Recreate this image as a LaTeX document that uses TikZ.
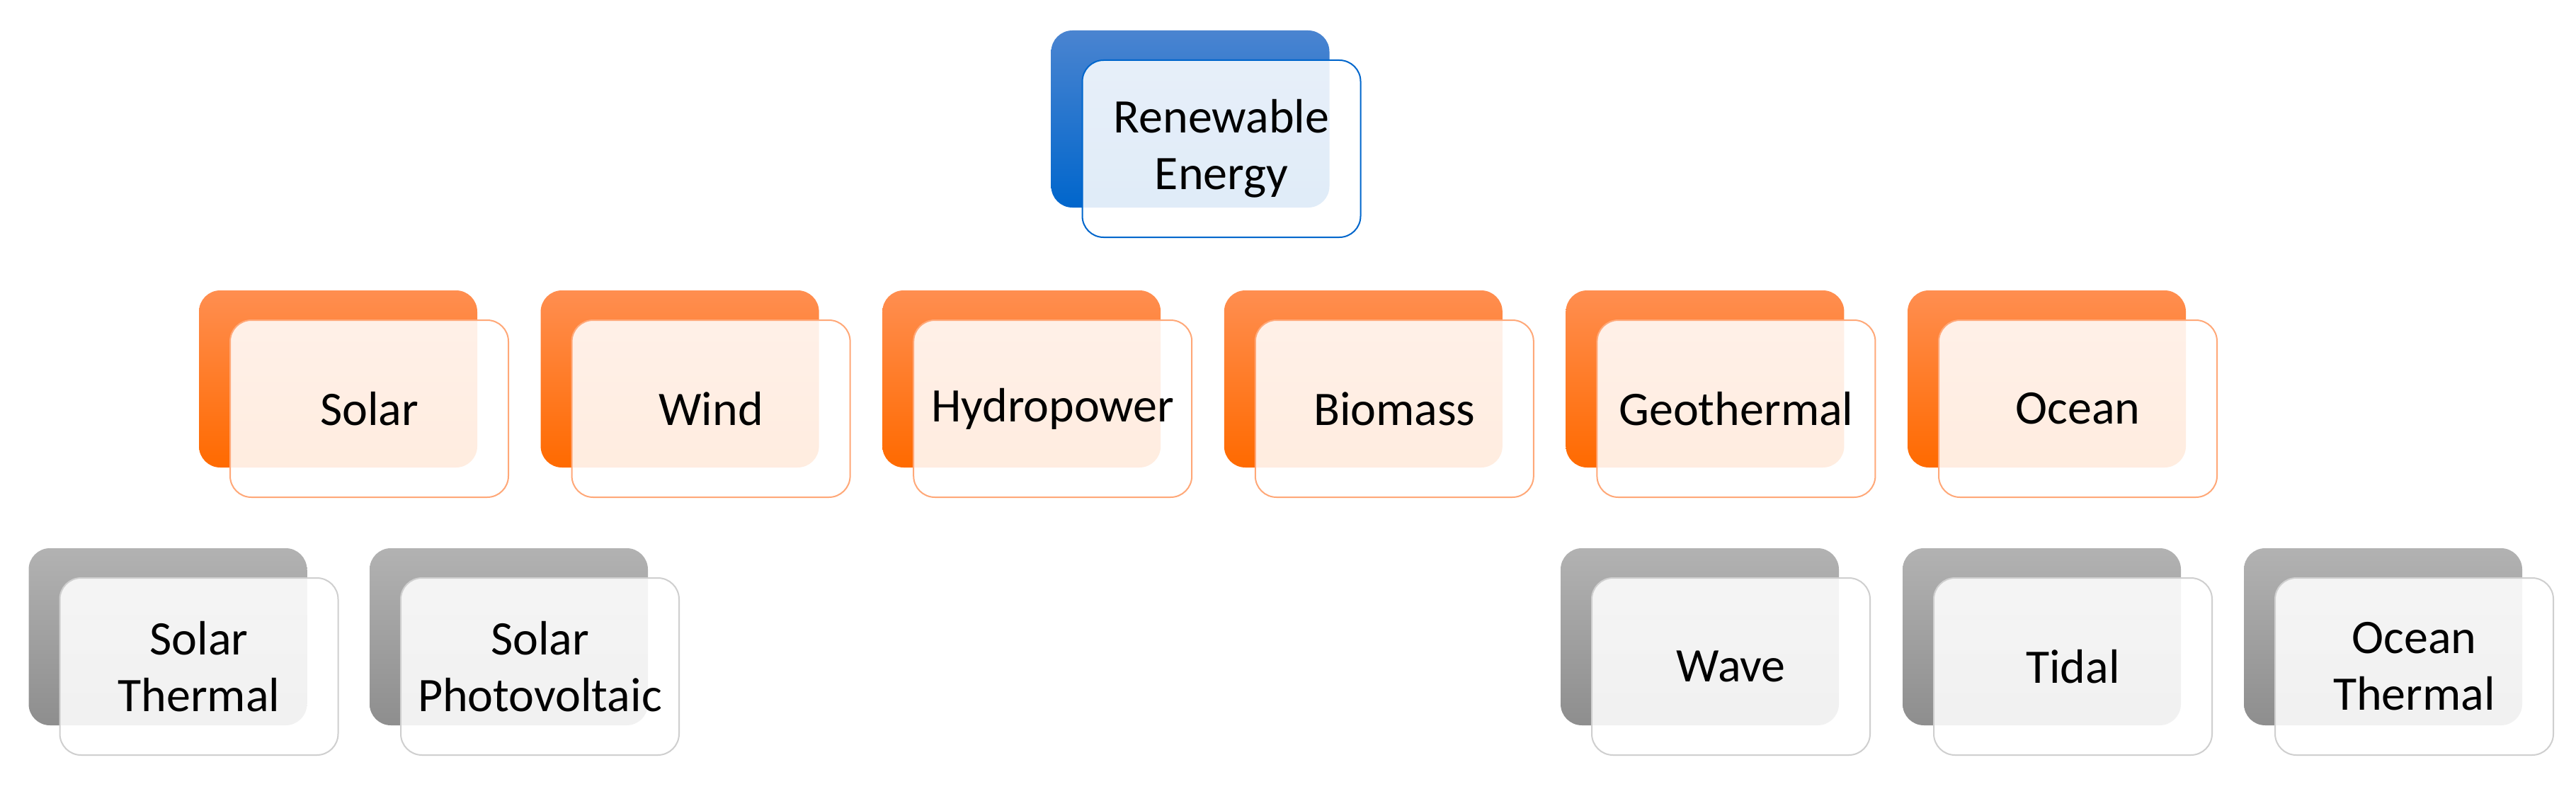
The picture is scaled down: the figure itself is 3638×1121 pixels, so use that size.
\documentclass[tikz,border=0pt]{standalone}
\usepackage{fontspec}
\setmainfont{Carlito}
\usetikzlibrary{backgrounds}
\tikzset{
  back/.style={rounded corners=30pt, draw=none, minimum width=393pt, minimum height=250pt, inner sep=0pt},
  front/.style={rounded corners=30pt, fill=white, fill opacity=0.88, text opacity=1, line width=2pt, minimum width=393pt, minimum height=250pt, inner sep=0pt, align=center, font=\fontsize{68}{80}\selectfont},
  bl/.style={back, top color=blueT, bottom color=blueB},
  or/.style={back, top color=orT, bottom color=orB},
  gr/.style={back, top color=grT, bottom color=grB},
  blf/.style={front, draw=blueB},
  orf/.style={front, draw=orL},
  grf/.style={front, draw=grL},
  oline/.style={draw=orL, line width=2.5pt},
  gline/.style={draw=grC, line width=2.5pt},
}
\definecolor{blueT}{HTML}{4A84D0}
\definecolor{blueB}{HTML}{0066CC}
\definecolor{orT}{HTML}{FF8E50}
\definecolor{orB}{HTML}{FF6A00}
\definecolor{orL}{HTML}{FFA878}
\definecolor{grT}{HTML}{B2B2B2}
\definecolor{grB}{HTML}{8E8E8E}
\definecolor{grL}{HTML}{CFCFCF}
\definecolor{grC}{HTML}{AAAAAA}
\begin{document}
\begin{tikzpicture}[x=1pt,y=-1pt]
\fill[white] (0,0) rectangle (3638,1121);
\useasboundingbox (0,0) rectangle (3638,1121);
\coordinate (bus1) at (0,373);
\coordinate (bus2) at (0,738);
% top
\node[bl] (re-b) at (1681,168) {};
\node[blf] (re) at (1725,210) {Renewable\\Energy};
% level 1
\foreach \n/\t [count=\i from 0] in {solar/Solar,wind/Wind,hydro/Hydropower,bio/Biomass,geo/Geothermal,ocean/Ocean}{
  \node[or] (\n-b) at ({477.5+482.6*\i},535) {};
  \node[orf] (\n) at ({521.5+482.6*\i},577) {\t};
}
% level 2
\foreach \n/\t/\x in {st/{Solar\\Thermal}/237, sp/{Solar\\Photovoltaic}/718.5, wave/Wave/2400.5, tidal/Tidal/2883.5, ot/{Ocean\\Thermal}/3365.5}{
  \node[gr] (\n-b) at (\x,899) {};
  \node[grf] (\n) at (\x+44,941) {\t};
}
\begin{scope}[on background layer]
\foreach \n in {solar,wind,hydro,bio,geo,ocean}
  \draw[oline] (re-b.south) -- (re-b.south |- bus1) -| (\n-b.north);
\foreach \n in {st,sp}
  \draw[gline] (solar-b.south) -- (solar-b.south |- bus2) -| (\n-b.north);
\foreach \n in {wave,tidal,ot}
  \draw[gline] (ocean-b.south) -- (ocean-b.south |- bus2) -| (\n-b.north);
\end{scope}
\end{tikzpicture}
\end{document}
